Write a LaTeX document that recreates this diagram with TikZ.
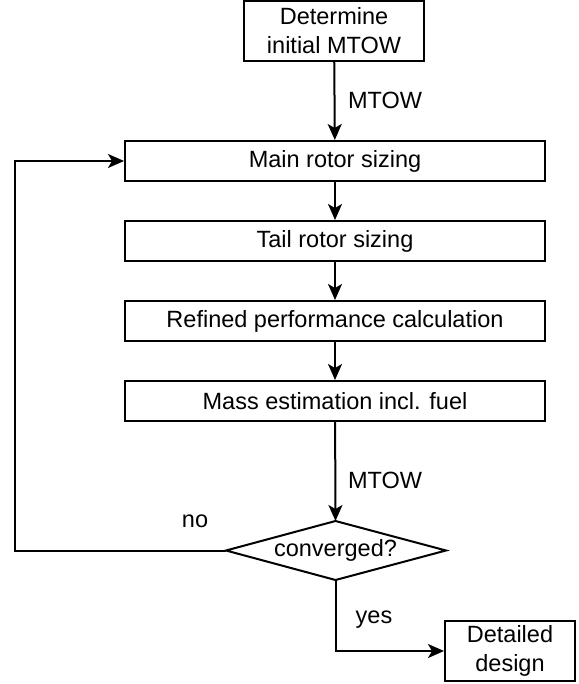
\documentclass[tikz,border=0pt]{standalone}
\usepackage{fontspec}
\setmainfont{Liberation Sans}
\usetikzlibrary{shapes.geometric,arrows.meta}
\tikzset{
  x=1pt,y=-1pt,
  every node/.style={font=\fontsize{23.5}{29}\selectfont, inner sep=0pt},
  procbox/.style={draw, line width=2pt, minimum width=420pt, minimum height=40pt},
  endbox/.style={draw, line width=2pt, align=center},
  decisline/.style={draw, line width=2pt, line join=miter},
  conn/.style={line width=2pt, -{Stealth[length=16pt,width=14pt,inset=4pt]}},
  lbl/.style={}
}
\begin{document}
\begin{tikzpicture}
\useasboundingbox (0,0) rectangle (578,684);
\node[endbox, minimum width=180pt, minimum height=60pt] (init) at (334,31) {Determine\\initial MTOW};
\node[procbox] (main) at (335,161) {Main rotor sizing};
\node[procbox] (tail) at (335,241) {Tail rotor sizing};
\node[procbox] (perf) at (335,321) {Refined performance calculation};
\node[procbox] (mass) at (335,401) {Mass estimation incl. fuel};
\node (conv) at (335.5,550.5) {converged?};
\coordinate (convn) at (335.5,521);
\coordinate (convs) at (335.5,580);
\coordinate (convw) at (226,550.5);
\coordinate (conve) at (446,550.5);
\draw[decisline] (convn) -- (conve) -- (convs) -- (convw) -- cycle;
\node[endbox, minimum width=130pt, minimum height=60pt] (det) at (510,651) {Detailed\\design};
\coordinate (loop) at (15,550.5);
\node[lbl] (l1) at (385,100) {MTOW};
\node[lbl] (l2) at (385,480) {MTOW};
\node[lbl] (lno) at (195,521) {no};
\node[lbl] (lyes) at (374,620) {\vphantom{y}yes};
\draw[conn] (init) -- (main);
\draw[conn] (main) -- (tail);
\draw[conn] (tail) -- (perf);
\draw[conn] (perf) -- (mass);
\draw[conn] (mass) -- (convn);
\draw[conn] (convw) -- (loop) |- (main.west);
\draw[conn] (convs) |- (det.west);
\end{tikzpicture}
\end{document}
